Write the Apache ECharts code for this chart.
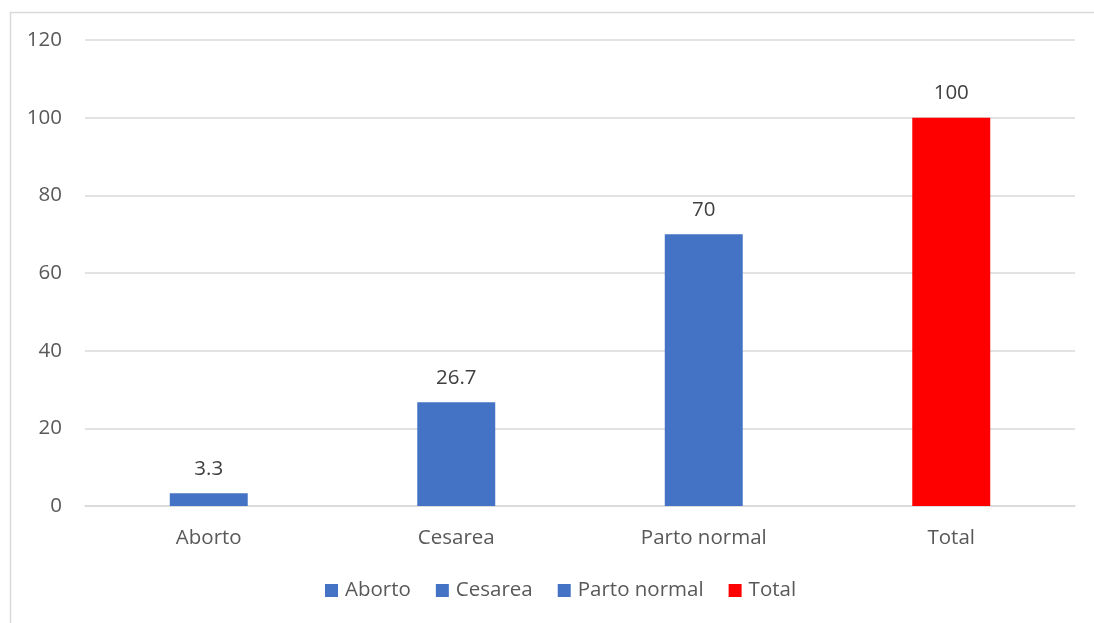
<!DOCTYPE html>
<html>
<head>
<meta charset="utf-8">
<script src="https://cdn.jsdelivr.net/npm/echarts@6/dist/echarts.min.js"></script>
<style>
  html, body { margin: 0; padding: 0; background: #ffffff; }
  #chart { width: 1094px; height: 623px; }
</style>
</head>
<body>
<div id="chart"></div>
<script>
// Categories and values per birth type
const categories = ['Aborto', 'Cesarea', 'Parto normal', 'Total'];
const seriesNames = ['Aborto', 'Cesarea', 'Parto normal', 'Total'];
const values = [3.3, 26.7, 70, 100];
const colors = ['#4472C4', '#4472C4', '#4472C4', '#FF0000'];
const yTicks = [0, 20, 40, 60, 80, 100, 120];

const FONT = '"Open Sans", Lato, sans-serif';
const TEXT = '#595959';
const GRIDLINE = '#d9d9d9';
const SIZE = 20.5;

const chart = echarts.init(document.getElementById('chart'), null, { renderer: 'canvas' });

// One series per category, each holding a value only in its own slot,
// stacked so every bar sits centered on its category.
const series = seriesNames.map((name, i) => ({
  name: name,
  type: 'bar',
  stack: 'all',
  barWidth: '31.5%',
  itemStyle: { color: colors[i] },
  data: categories.map((c, j) => (j === i ? values[i] : null)),
  label: {
    show: true,
    position: 'top',
    distance: 14,
    color: '#404040',
    fontFamily: FONT,
    fontSize: SIZE
  }
}));

chart.setOption({
  animation: false,
  backgroundColor: '#ffffff',
  graphic: [{
    type: 'rect',
    left: 8,
    top: 10,
    shape: { width: 1200, height: 700 },
    style: { fill: 'none', stroke: '#d9d9d9', lineWidth: 1.5 },
    silent: true,
    z: -1
  }],
  grid: { left: 85, right: 19, top: 40, bottom: 117, containLabel: false },
  legend: {
    bottom: 17,
    left: 320,
    itemWidth: 13,
    itemHeight: 13,
    itemGap: 25,
    icon: 'rect',
    textStyle: { color: TEXT, fontFamily: FONT, fontSize: SIZE, padding: [0, 0, 0, 2] },
    data: seriesNames
  },
  xAxis: {
    type: 'category',
    data: categories,
    axisLine: { show: true, lineStyle: { color: GRIDLINE, width: 1.5 } },
    axisTick: { show: false },
    axisLabel: { color: TEXT, fontFamily: FONT, fontSize: SIZE, margin: 22 }
  },
  yAxis: {
    type: 'value',
    min: yTicks[0],
    max: yTicks[yTicks.length - 1],
    interval: 20,
    axisLine: { show: false },
    axisTick: { show: false },
    axisLabel: { color: TEXT, fontFamily: FONT, fontSize: SIZE, margin: 23 },
    splitLine: { lineStyle: { color: GRIDLINE, width: 1.5 } }
  },
  series: series
});
</script>
</body>
</html>
